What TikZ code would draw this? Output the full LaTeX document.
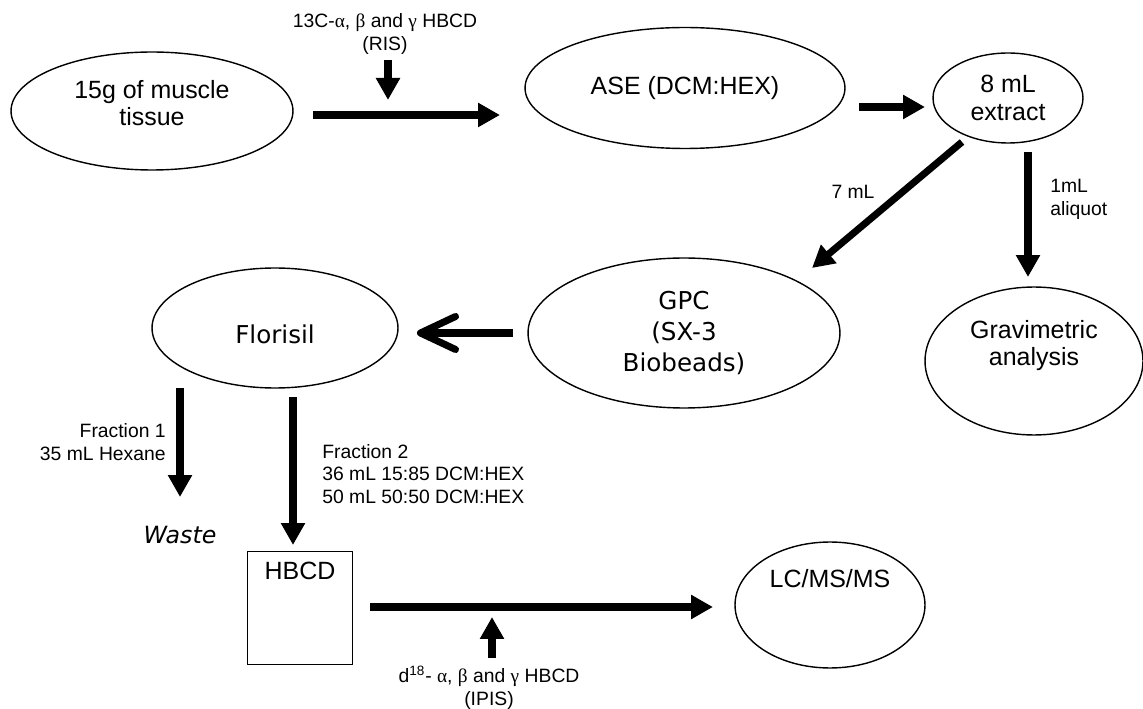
\documentclass[tikz,border=0pt]{standalone}
\usepackage{fontspec}
\setmainfont{Liberation Sans}
\newfontfamily\verdfont{DejaVu Sans}
\newfontfamily\grkfont{Liberation Serif}
\newcommand\gk[1]{{\grkfont #1}}
\newcommand\lifted[2]{\raisebox{#1}[0pt][0pt]{\begin{tabular}{@{}c@{}}#2\end{tabular}}}
\usetikzlibrary{shapes.geometric,arrows.meta}

\begin{document}
\begin{tikzpicture}[x=0.02cm, y=-0.02cm,
    stage/.style={ellipse, draw, thick, align=center, inner sep=0pt, font=\fontsize{14.2}{15.5}\selectfont},
    vstage/.style={stage, font=\verdfont\fontsize{14}{17.6}\selectfont},
    note/.style={align=center, inner sep=0pt, font=\fontsize{11}{13}\selectfont},
    flow/.style={-{Triangle[length=0.44cm,width=0.46cm]}, line width=4pt},
    backflow/.style={-{Straight Barb[length=0.7cm,width=0.66cm,round]}, line width=4pt}]
    \useasboundingbox (0,0) rectangle (1143,709);

    % Extraction
    \node[stage, minimum width=5.64cm, minimum height=2.36cm] (tissue) at (152,111) {\lifted{-0.04cm}{15g of muscle\\tissue}};
    \node[stage, minimum width=6.4cm, minimum height=2.42cm] (ase) at (685,88) {ASE (DCM:HEX)};
    \node[stage, minimum width=3.0cm, minimum height=1.8cm] (extract) at (1008,98) {8 mL\\extract};
    \node[note] (ris) at (385,34) {13C-\gk{α}, \gk{β} and \gk{γ} HBCD\\(RIS)};

    % Clean-up
    \node[vstage, minimum width=6.24cm, minimum height=3.0cm] (gpc) at (684,333) {GPC\\(SX-3\\Biobeads)};
    \node[stage, minimum width=4.36cm, minimum height=2.96cm] (gravi) at (1034,361) {\lifted{0.17cm}{Gravimetric\\analysis}};
    \node[vstage, minimum width=4.92cm, minimum height=2.4cm] (florisil) at (275,328) {\raisebox{-0.32cm}[0pt][0pt]{Florisil}};
    \node[note] (ml7) at (853,192) {7 mL};
    \node[note, anchor=west, align=left] (aliquot) at (1050,199) {1mL\\aliquot};

    % Fractions
    \node[note, anchor=east, align=right] (frac1) at (166,442) {Fraction 1\\35 mL Hexane};
    \node[note, anchor=west, align=left, font=\fontsize{11}{12.8}\selectfont] (frac2) at (322,474) {Fraction 2\\36 mL 15:85 DCM:HEX\\50 mL 50:50 DCM:HEX};
    \node[inner sep=0pt, font=\verdfont\itshape\fontsize{13.5}{16}\selectfont] (waste) at (180,535) {Waste};
    \node[draw, thick, minimum width=2.1cm, minimum height=2.26cm, font=\fontsize{14.2}{15.5}\selectfont] (hbcd) at (300,608) {\raisebox{0.58cm}[0pt][0pt]{HBCD}};

    % Analysis
    \node[stage, minimum width=3.8cm, minimum height=2.52cm] (lcms) at (830,605) {\raisebox{0.36cm}[0pt][0pt]{LC/MS/MS}};
    \node[note] (ipis) at (489,688) {d\textsuperscript{18}- \gk{α}, \gk{β} and \gk{γ} HBCD\\(IPIS)};

    % Arrow ends
    \coordinate (t1) at (313,115);  \coordinate (t2) at (500,115);
    \coordinate (r1) at (388,60);   \coordinate (r2) at (388,100);
    \coordinate (e1) at (859,107);  \coordinate (e2) at (925,107);
    \coordinate (s1) at (962,142);  \coordinate (s2) at (812,268);
    \coordinate (a1) at (1028,152); \coordinate (a2) at (1028,277);
    \coordinate (g1) at (513,333);  \coordinate (g2) at (417,333);
    \coordinate (f1) at (180,388);  \coordinate (f2) at (180,497);
    \coordinate (h1) at (293,397);  \coordinate (h2) at (293,545);
    \coordinate (b1) at (370,607);  \coordinate (b2) at (713,607);
    \coordinate (i1) at (492,658);  \coordinate (i2) at (492,617);

    % Arrows
    \draw[flow] (t1) -- (t2);
    \draw[flow] (r1) -- (r2);
    \draw[flow] (e1) -- (e2);
    \draw[flow] (s1) -- (s2);
    \draw[flow] (a1) -- (a2);
    \draw[backflow] (g1) -- (g2);
    \draw[flow] (f1) -- (f2);
    \draw[flow] (h1) -- (h2);
    \draw[flow] (b1) -- (b2);
    \draw[flow] (i1) -- (i2);
\end{tikzpicture}
\end{document}
